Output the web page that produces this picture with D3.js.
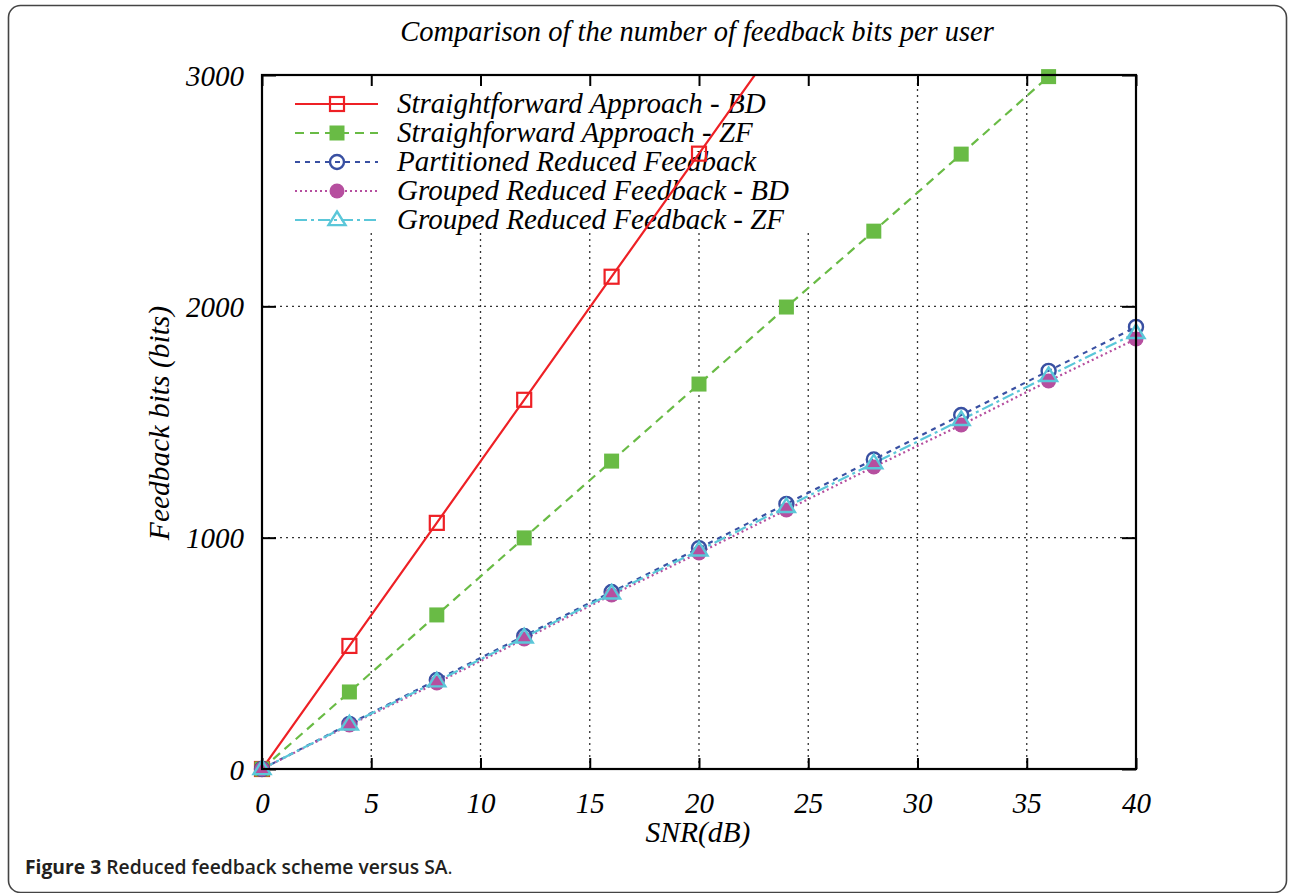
<!DOCTYPE html>
<html>
<head>
<meta charset="utf-8">
<script src="https://cdn.jsdelivr.net/npm/d3@7"></script>
<style>
html,body{margin:0;padding:0;background:#fff;}
svg{display:block;}
</style>
</head>
<body>
<script>
// ---- data ----
const snr = [0, 4, 8, 12, 16, 20, 24, 28, 32, 36, 40];
const saBD = [0, 532, 1064, 1596, 2128, 2660, 3192];
const saZF = [0, 333, 666, 999, 1331, 1664, 1997, 2325, 2658, 2993, 3328];
const partitioned = [0, 195, 385, 575, 765, 955, 1146, 1338, 1530, 1721, 1911];
const groupedBD = [0, 190, 372, 562, 752, 934, 1120, 1306, 1487, 1677, 1859];
const groupedZF = [0, 193, 379, 569, 759, 945, 1133, 1322, 1509, 1699, 1885];
const xTicks = [0, 5, 10, 15, 20, 25, 30, 35, 40];
const yTicks = [0, 1000, 2000, 3000];
const seriesNames = ["Straightforward Approach - BD", "Straighforward Approach - ZF",
  "Partitioned Reduced Feedback", "Grouped Reduced Feedback - BD", "Grouped Reduced Feedback - ZF"];
const titleText = "Comparison of the number of feedback bits per user";
const xLabel = "SNR(dB)";
const yLabel = "Feedback bits (bits)";

const W = 1290, H = 893;
const svg = d3.select("body").append("svg").attr("width", W).attr("height", H);

// outer frame
svg.append("rect").attr("x", 8.5).attr("y", 5.5).attr("width", 1278).attr("height", 887)
  .attr("rx", 12).attr("fill", "none").attr("stroke", "#444").attr("stroke-width", 1.6);

const L = 262, R = 1136, T = 75, B = 769;
const x = d3.scaleLinear().domain([0, 40]).range([L, R]);
const y = d3.scaleLinear().domain([0, 3000]).range([B, T]);

const serif = "'Liberation Serif', 'Times New Roman', serif";
const FS = 29;

// grid
const grid = svg.append("g").attr("stroke", "#333").attr("stroke-width", 1.3).attr("stroke-dasharray", "2,4");
xTicks.slice(1, -1).forEach(t => {
  grid.append("line").attr("x1", x(t)).attr("x2", x(t)).attr("y1", B).attr("y2", T);
});
yTicks.slice(1, -1).forEach(t => {
  grid.append("line").attr("x1", L).attr("x2", R).attr("y1", y(t)).attr("y2", y(t));
});

// legend background (covers grid)
svg.append("rect").attr("x", L + 2).attr("y", T + 2).attr("width", 585).attr("height", 156).attr("fill", "#fff");

// axes with inward ticks on all sides
const fmt = d3.format("d");
const axB = svg.append("g").attr("transform", `translate(0,${B})`)
  .call(d3.axisBottom(x).tickValues(xTicks).tickSize(-11).tickPadding(19).tickFormat(fmt));
const axL = svg.append("g").attr("transform", `translate(${L},0)`)
  .call(d3.axisLeft(y).tickValues(yTicks).tickSize(-14).tickPadding(18).tickFormat(fmt));
const axT = svg.append("g").attr("transform", `translate(0,${T})`)
  .call(d3.axisTop(x).tickValues(xTicks).tickSize(-11).tickFormat(""));
const axR = svg.append("g").attr("transform", `translate(${R},0)`)
  .call(d3.axisRight(y).tickValues(yTicks).tickSize(-14).tickFormat(""));
[axB, axL, axT, axR].forEach(a => {
  a.select(".domain").remove();
  a.selectAll(".tick line").attr("stroke", "#000").attr("stroke-width", 2);
  a.selectAll("text").attr("font-family", serif).attr("font-style", "italic")
    .attr("font-size", FS).attr("fill", "#000");
});
axB.selectAll("text").attr("dy", "0.85em");
axL.selectAll("text").attr("dy", "0.35em");

// title & axis labels
svg.append("text").attr("x", 697).attr("y", 41).attr("text-anchor", "middle")
  .attr("font-family", serif).attr("font-style", "italic").attr("font-size", 28.5).text(titleText);
svg.append("text").attr("x", 698).attr("y", 842).attr("text-anchor", "middle")
  .attr("font-family", serif).attr("font-style", "italic").attr("font-size", 29.5).text(xLabel);
svg.append("text").attr("transform", "translate(169,423) rotate(-90)").attr("text-anchor", "middle")
  .attr("font-family", serif).attr("font-style", "italic").attr("font-size", 29.5).text(yLabel);

// caption
const cap = svg.append("text").attr("x", 25).attr("y", 874)
  .attr("font-family", "'Open Sans', 'DejaVu Sans', sans-serif").attr("font-size", 19.3).attr("fill", "#231f20");
cap.append("tspan").attr("font-weight", 700).text("Figure 3");
cap.append("tspan").attr("font-weight", 600).text(" Reduced feedback scheme versus SA");
cap.append("tspan").attr("font-weight", 400).text(".");

// series definitions
const series = [
  {name: seriesNames[0], vals: saBD, color: "#ee2025", dash: null, marker: "sqOpen"},
  {name: seriesNames[1], vals: saZF, color: "#69bb45", dash: "9,6", marker: "sqFill"},
  {name: seriesNames[2], vals: partitioned, color: "#3950a2", dash: "5,5", marker: "circOpen"},
  {name: seriesNames[3], vals: groupedBD, color: "#b64f9f", dash: "2,3", marker: "circFill"},
  {name: seriesNames[4], vals: groupedZF, color: "#5bc7d9", dash: "12,4,3,4", marker: "tri"}
];

function drawMarker(g, type, cx, cy, color) {
  if (type === "sqOpen") {
    g.append("rect").attr("x", cx - 7).attr("y", cy - 7).attr("width", 14).attr("height", 14)
      .attr("fill", "none").attr("stroke", color).attr("stroke-width", 2.2);
  } else if (type === "sqFill") {
    g.append("rect").attr("x", cx - 7.5).attr("y", cy - 7.5).attr("width", 15).attr("height", 15)
      .attr("fill", color);
  } else if (type === "circOpen") {
    g.append("circle").attr("cx", cx).attr("cy", cy).attr("r", 7)
      .attr("fill", "none").attr("stroke", color).attr("stroke-width", 2.4);
  } else if (type === "circFill") {
    g.append("circle").attr("cx", cx).attr("cy", cy).attr("r", 7.5).attr("fill", color);
  } else if (type === "tri") {
    const s = 8.5;
    g.append("path").attr("d", `M${cx},${cy - s}L${cx + s},${cy + s * 0.6}L${cx - s},${cy + s * 0.6}Z`)
      .attr("fill", "none").attr("stroke", color).attr("stroke-width", 2.4).attr("stroke-linejoin", "miter");
  }
}

// legend
const lg = svg.append("g");
const rowY = [104, 133, 162, 191, 220];
series.forEach((s, i) => {
  lg.append("line").attr("x1", 295).attr("x2", 378).attr("y1", rowY[i]).attr("y2", rowY[i])
    .attr("stroke", s.color).attr("stroke-width", 2.2).attr("stroke-dasharray", s.dash);
  drawMarker(lg, s.marker, 337, rowY[i], s.color);
  lg.append("text").attr("x", 397).attr("y", rowY[i] + 9).attr("font-family", serif)
    .attr("font-style", "italic").attr("font-size", FS).text(s.name);
});

// clip
svg.append("clipPath").attr("id", "clip").append("rect")
  .attr("x", L).attr("y", T).attr("width", R - L).attr("height", B - T);

const plot = svg.append("g").attr("clip-path", "url(#clip)");
const line = d3.line().x((d, i) => x(snr[i])).y(d => y(d));
series.forEach(s => {
  plot.append("path").datum(s.vals).attr("d", line).attr("fill", "none")
    .attr("stroke", s.color).attr("stroke-width", 2.2).attr("stroke-dasharray", s.dash);
});
const mk = svg.append("g");
series.forEach(s => {
  s.vals.forEach((v, i) => {
    if (v <= 3000) drawMarker(mk, s.marker, x(snr[i]), y(v), s.color);
  });
});

// frame
svg.append("rect").attr("x", L).attr("y", T).attr("width", R - L).attr("height", B - T)
  .attr("fill", "none").attr("stroke", "#000").attr("stroke-width", 2.2);
</script>
</body>
</html>
